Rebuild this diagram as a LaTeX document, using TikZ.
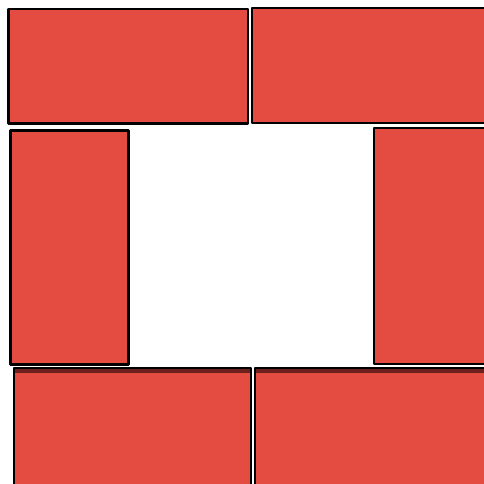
\documentclass[tikz,border=0pt]{standalone}
\definecolor{brick}{RGB}{228,76,65}
\definecolor{brickshade}{RGB}{110,32,30}
\begin{document}
\begin{tikzpicture}[x=1pt,y=-1pt,
  brickbox/.style={fill=brick,draw=black,line width=2.6pt,line join=round},
  brickfill/.style={fill=brick},
  brickedge/.style={draw=black,line width=2.6pt,line join=round}]
\useasboundingbox (0,0) rectangle (483,484);
\fill[white] (-5,-5) rectangle (495,495);
\path[brickbox] (8.5,9) rectangle (248,123.5);
\path[brickbox] (10.5,130.5) rectangle (128.5,364.5);
% right-hand bricks run off the page: no right edge
\fill[brickfill] (252,8) rectangle (495,123);
\draw[brickedge] (495,8) -- (252,8) -- (252,123) -- (495,123);
\fill[brickfill] (374,128) rectangle (495,364);
\draw[brickedge] (495,128) -- (374,128) -- (374,364) -- (495,364);
% bottom bricks run off the page: no bottom edge
\fill[brickfill] (14,368) rectangle (251,495);
\draw[brickedge] (14,495) -- (14,368) -- (251,368) -- (251,495);
\fill[brickfill] (255,368) rectangle (495,495);
\draw[brickedge] (255,495) -- (255,368) -- (495,368);
\fill[brickshade] (15.3,369.3) rectangle (249.7,372.5);
\fill[brickshade] (256.3,369.3) rectangle (495,372.5);
\end{tikzpicture}
\end{document}
